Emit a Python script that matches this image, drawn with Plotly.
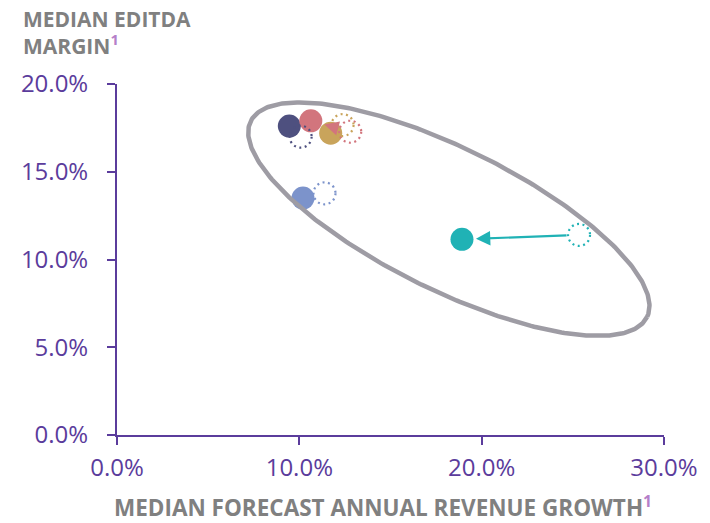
import numpy as np
import plotly.graph_objects as go

# ---------------- data ----------------
series_names = ["Navy", "Pink", "Gold", "Blue", "Teal"]
growth_now = [9.45, 10.63, 11.72, 10.2, 18.92]      # filled circles (x, %)
margin_now = [17.6, 17.9, 17.2, 13.5, 11.15]        # filled circles (y, %)
growth_prev = [10.07, 12.79, 12.37, 11.38, 25.34]   # dotted circles (x, %)
margin_prev = [17.0, 17.28, 17.66, 13.77, 11.4]     # dotted circles (y, %)
x_ticks = [0, 10, 20, 30]
y_ticks = [0, 5, 10, 15, 20]

# ---------------- styles ----------------
colors = ["#4e507f", "#d2757d", "#c9a45b", "#7c93cb", "#20b2b5"]
purple = "#5b3c9c"
gray_txt = "#808080"
sup_col = "#b57fc9"
ell_col = "#9e9ca4"
tick_font = dict(family="Open Sans", size=24, color=purple)

L, R, T, B = 117, 40, 84, 88
W, H = 710, 523
pw, ph = W - L - R, H - T - B
px_x = pw / 30.0
px_y = ph / 20.0

fig = go.Figure()

# filled circles
fig.add_trace(go.Scatter(
    x=growth_now, y=margin_now, mode="markers",
    marker=dict(size=23, color=colors, line=dict(width=0), opacity=1),
    hoverinfo="skip", showlegend=False, cliponaxis=False))

# ellipse (decoration): centre in data units, semi-axes in pixels
ecx, ecy = 18.2, 12.3
ea, eb, eth = 223.0, 71.0, np.deg2rad(26.0)
t = np.linspace(0, 2 * np.pi, 361)
dxp = ea * np.cos(t) * np.cos(eth) - eb * np.sin(t) * np.sin(eth)
dyp = ea * np.cos(t) * np.sin(eth) + eb * np.sin(t) * np.cos(eth)
fig.add_trace(go.Scatter(
    x=ecx + dxp / px_x, y=ecy - dyp / px_y, mode="lines",
    line=dict(color=ell_col, width=4.5), hoverinfo="skip",
    showlegend=False, cliponaxis=False))

# dotted circles
for gx, my, c in zip(growth_prev, margin_prev, colors):
    fig.add_shape(type="circle", xref="x", yref="y",
                  xsizemode="pixel", ysizemode="pixel",
                  xanchor=gx, yanchor=my, x0=-11, x1=11, y0=-11, y1=11,
                  line=dict(color=c, width=2.2, dash="2px,3.5px"),
                  layer="above")

# arrows from previous to current
for gx, my, gn, mn, c in zip(growth_prev, margin_prev, growth_now, margin_now, colors):
    dist = np.hypot((gx - gn) * px_x, (my - mn) * px_y)
    if dist < 30:
        continue
    fig.add_annotation(x=gn, y=mn, ax=gx, ay=my, xref="x", yref="y",
                       axref="x", ayref="y", showarrow=True, text="",
                       arrowhead=2, arrowsize=1.3, arrowwidth=2.2,
                       arrowcolor=c, standoff=14, startstandoff=11)

fig.update_xaxes(range=[0, 30], tickvals=x_ticks,
                 ticktext=[f"{v:.1f}%" for v in x_ticks],
                 showgrid=False, zeroline=False, showline=True,
                 linecolor=purple, linewidth=2, ticks="outside",
                 tickcolor=purple, tickwidth=2, ticklen=8,
                 ticklabelstandoff=2, tickfont=tick_font)
fig.update_yaxes(range=[0, 20], tickvals=y_ticks,
                 ticktext=[f"{v:.1f}%" for v in y_ticks],
                 showgrid=False, zeroline=False, showline=True,
                 linecolor=purple, linewidth=2, ticks="outside",
                 tickcolor=purple, tickwidth=2, ticklen=8,
                 ticklabelstandoff=14, tickfont=tick_font)

fig.add_annotation(xref="paper", yref="paper", x=(20 - L) / pw, y=1 + 81 / ph,
                   xanchor="left", yanchor="top", align="left", showarrow=False,
                   text=f"<b>MEDIAN EDITDA<br>MARGIN<sup><span style='color:{sup_col}'>1</span></sup></b>",
                   font=dict(family="Open Sans", size=21, color=gray_txt))
fig.add_annotation(xref="paper", yref="paper", x=(386 - L) / pw, y=-(506 - (T + ph)) / ph,
                   xanchor="center", yanchor="middle", showarrow=False,
                   text=f"<b>MEDIAN FORECAST ANNUAL REVENUE GROWTH<sup><span style='color:{sup_col}'>1</span></sup></b>",
                   font=dict(family="Open Sans", size=22.5, color=gray_txt))

fig.update_layout(width=W, height=H, margin=dict(l=L, r=R, t=T, b=B),
                  paper_bgcolor="white", plot_bgcolor="white",
                  showlegend=False)

fig.write_html("out.html")
